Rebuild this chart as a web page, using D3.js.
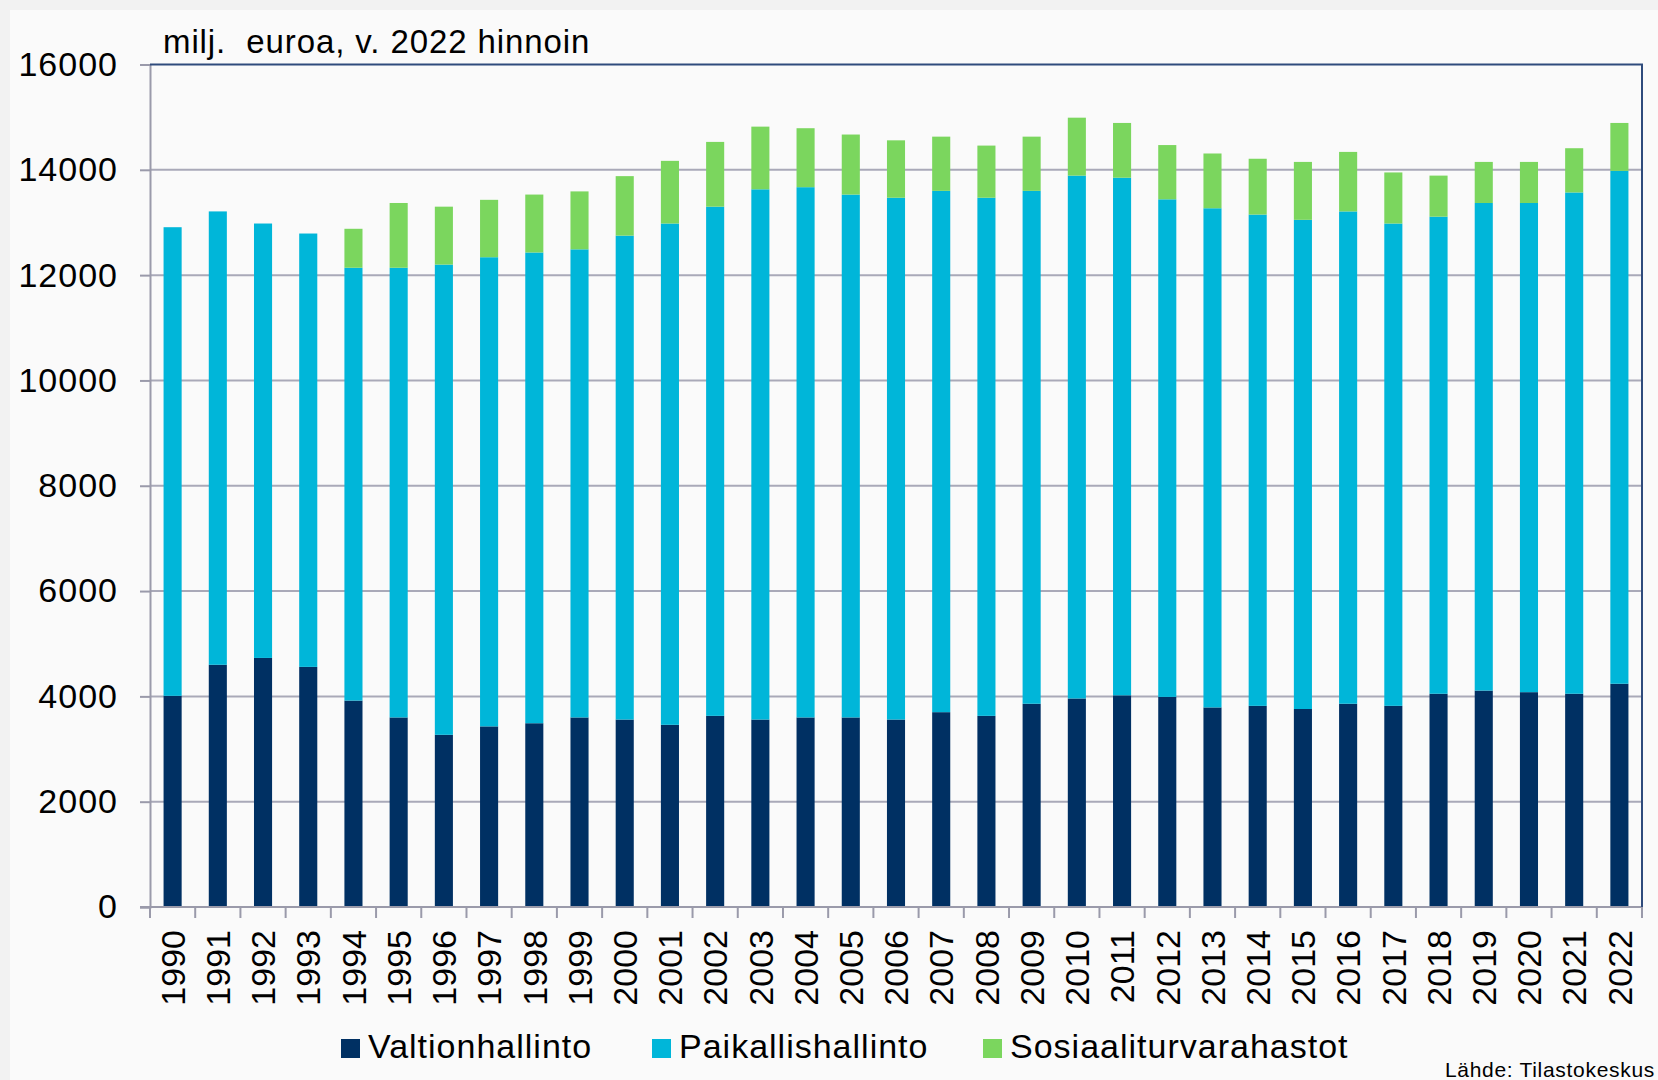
<!DOCTYPE html>
<html>
<head>
  <meta charset="utf-8">
  <script src="https://d3js.org/d3.v7.min.js"></script>
  <style>
  body {
    margin: 0;
    background: #f2f2f2;
  }
  * {
    font-family: "Liberation Sans", Arial, sans-serif;
  }
  </style>
</head>

<body>
  <div id="chart"></div>

<script>
const years = ["1990", "1991", "1992", "1993", "1994", "1995", "1996", "1997", "1998", "1999",
               "2000", "2001", "2002", "2003", "2004", "2005", "2006", "2007", "2008", "2009",
               "2010", "2011", "2012", "2013", "2014", "2015", "2016", "2017", "2018", "2019",
               "2020", "2021", "2022"];
const valtionhallinto = [4010, 4600, 4730, 4560, 3920, 3600, 3270, 3430, 3490, 3600,
                         3560, 3460, 3630, 3560, 3600, 3600, 3560, 3700, 3630, 3860,
                         3960, 4020, 3990, 3790, 3820, 3760, 3860, 3820, 4050, 4110,
                         4080, 4050, 4240];
const paikallishallinto = [8900, 8610, 8250, 8230, 8220, 8540, 8930, 8910, 8940, 8890,
                           9190, 9520, 9670, 10070, 10070, 9930, 9910, 9900, 9840, 9740,
                           9930, 9830, 9450, 9480, 9330, 9290, 9350, 9160, 9060, 9260,
                           9290, 9520, 9740];
const sosiaaliturvarahastot = [0, 0, 0, 0, 740, 1230, 1100, 1090, 1100, 1100,
                               1130, 1190, 1230, 1190, 1120, 1140, 1090, 1030, 990, 1030,
                               1100, 1040, 1030, 1040, 1060, 1100, 1130, 970, 780, 780,
                               780, 840, 910];
const seriesNames = ["Valtionhallinto", "Paikallishallinto", "Sosiaaliturvarahastot"];
const yTicks = [0, 2000, 4000, 6000, 8000, 10000, 12000, 14000, 16000];
const colors = ["#003063", "#00b6d9", "#7bd65e"];

const W = 1658, H = 1080;
const margin = { top: 64.5, right: 16, bottom: 173, left: 150 };
const width = W - margin.left - margin.right;
const height = H - margin.top - margin.bottom;

const root = d3.select("#chart")
               .append("svg")
               .attr("width", W)
               .attr("height", H);

// background panel
root.append("rect")
    .attr("width", W).attr("height", H)
    .attr("fill", "#f2f2f2");
root.append("rect")
    .attr("x", 10).attr("y", 10)
    .attr("width", W - 10).attr("height", H - 10)
    .attr("fill", "#fafafa");

const svg = root.append("g")
                .attr("transform", `translate(${margin.left},${margin.top})`);

// table for the stack
const rows = years.map(function(yr, i) {
  return {
    year: yr,
    Valtionhallinto: valtionhallinto[i],
    Paikallishallinto: paikallishallinto[i],
    Sosiaaliturvarahastot: sosiaaliturvarahastot[i]
  };
});
const stacked = d3.stack().keys(seriesNames)(rows);

const x = d3.scaleBand()
            .domain(years)
            .range([0, width])
            .paddingInner(0.6)
            .paddingOuter(0.3);

const y = d3.scaleLinear()
            .domain([0, 16000])
            .range([height, 0]);

// grid lines
svg.append("g")
   .selectAll("line")
   .data(yTicks.filter(function(d) { return d > 0 && d < 16000; }))
   .join("line")
   .attr("x1", 0).attr("x2", width)
   .attr("y1", function(d) { return y(d); })
   .attr("y2", function(d) { return y(d); })
   .attr("stroke", "#a9a9b8")
   .attr("stroke-width", 2);

// y axis
const yAxis = svg.append("g")
   .call(d3.axisLeft(y).tickValues(yTicks).tickFormat(d3.format("d")).tickSize(10).tickPadding(22));
yAxis.select(".domain").attr("stroke", "#9a9aaa").attr("stroke-width", 2);
yAxis.selectAll(".tick line").attr("stroke", "#9a9aaa").attr("stroke-width", 2);
yAxis.selectAll(".tick text")
     .style("font-size", "34px")
     .style("letter-spacing", "1px")
     .attr("fill", "#000");

// bars
svg.append("g")
   .selectAll("g")
   .data(stacked)
   .join("g")
   .attr("fill", function(d, i) { return colors[i]; })
   .selectAll("rect")
   .data(function(d) { return d; })
   .join("rect")
   .attr("x", function(d) { return x(d.data.year); })
   .attr("width", x.bandwidth())
   .attr("y", function(d) { return y(d[1]); })
   .attr("height", function(d) { return y(d[0]) - y(d[1]); });

// x axis: line, ticks at band boundaries, rotated labels
svg.append("line")
   .attr("x1", -10).attr("x2", width)
   .attr("y1", height).attr("y2", height)
   .attr("stroke", "#9a9aaa")
   .attr("stroke-width", 2);

const bounds = years.map(function(d) { return x(d) + x.bandwidth() / 2 - x.step() / 2; });
bounds.push(width);
svg.append("g")
   .selectAll("line")
   .data(bounds)
   .join("line")
   .attr("x1", function(d) { return d; })
   .attr("x2", function(d) { return d; })
   .attr("y1", height)
   .attr("y2", height + 11)
   .attr("stroke", "#9a9aaa")
   .attr("stroke-width", 2);

svg.append("g")
   .selectAll("text")
   .data(years)
   .join("text")
   .attr("transform", function(d) {
     return `translate(${x(d) + x.bandwidth() / 2},${height + 23}) rotate(-90)`;
   })
   .attr("dy", "0.36em")
   .attr("text-anchor", "end")
   .style("font-size", "34px")
   .text(function(d) { return d; });

// frame top and right
svg.append("path")
   .attr("d", `M0,0H${width}V${height}`)
   .attr("fill", "none")
   .attr("stroke", "#2f4b7c")
   .attr("stroke-width", 2);

// title
root.append("text")
    .attr("x", 163)
    .attr("y", 53)
    .attr("xml:space", "preserve")
    .style("white-space", "pre")
    .style("font-size", "33px")
    .style("letter-spacing", "0.9px")
    .text("milj.  euroa, v. 2022 hinnoin");

// legend
const legendX = [341, 652, 983];
const legend = root.append("g")
                   .selectAll("g")
                   .data(seriesNames)
                   .join("g")
                   .attr("transform", function(d, i) { return `translate(${legendX[i]},1058)`; });
legend.append("rect")
      .attr("x", 0).attr("y", -19)
      .attr("width", 19).attr("height", 19)
      .attr("fill", function(d, i) { return colors[i]; });
legend.append("text")
      .attr("x", 27)
      .attr("y", 0)
      .style("font-size", "34px")
      .style("letter-spacing", "1px")
      .text(function(d) { return d; });

// source
root.append("text")
    .attr("x", 1655)
    .attr("y", 1077)
    .attr("text-anchor", "end")
    .style("font-size", "21px")
    .style("letter-spacing", "0.7px")
    .text("Lähde: Tilastokeskus");
</script>
</body>
</html>
